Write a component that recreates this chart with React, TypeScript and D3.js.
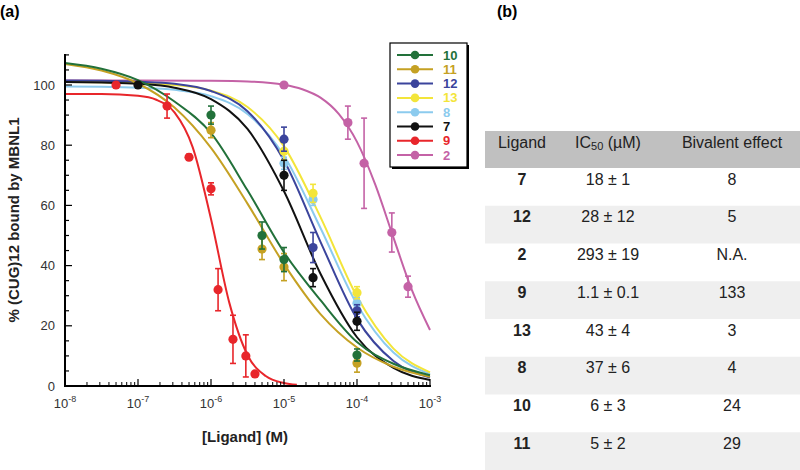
import React from "react";
import * as d3 from "d3";

// ---------- data ----------
const seriesNames = ["10", "11", "12", "13", "8", "7", "9", "2"];
const seriesColors = ["#22713a", "#c5a123", "#3b449c", "#f3e53a", "#8ccbee", "#111111", "#e8262b", "#c462a6"];

// fitted curves
const curveConc = [1e-8, 3.16e-8, 1e-7, 3.16e-7, 1e-6, 3.16e-6, 1e-5, 3.16e-5, 1e-4, 3.16e-4, 1e-3];
const curve10 = [107.3, 105.4, 101.6, 94.5, 84, 65, 44.4, 28.5, 14.6, 7.4, 3.6];
const curve11 = [107, 104.8, 100.5, 92.5, 79.1, 60.6, 40.5, 23.9, 12.8, 6.4, 3.1];
const curve12 = [101.5, 101.4, 101.1, 100.4, 98.0, 91.3, 74.9, 47.9, 22.3, 8.3, 2.8];
const curve13 = [101, 100.9, 100.7, 100, 98.1, 92.7, 79.6, 56.1, 29.7, 12.4, 4.5];
const curve8 = [99.5, 99.4, 99.1, 98.4, 96.3, 90.4, 76.5, 52.5, 27.1, 11.1, 4.0];
const curve7 = [101, 100.8, 100.4, 99.1, 95.3, 85.4, 64.7, 37.3, 16.2, 6.0, 2.0];
const curve9Conc = [1e-8, 3.16e-8, 1e-7, 1.78e-7, 3.16e-7, 5.62e-7, 1e-6, 1.78e-6, 3.16e-6, 5.62e-6, 1e-5, 1.5e-5];
const curve9 = [97, 97, 96.4, 95.1, 90.9, 79.3, 55.5, 27.7, 10.3, 3.3, 1.0, 0.4];
const curve2Conc = [1e-8, 1e-7, 1e-6, 3.16e-6, 1e-5, 1.78e-5, 3.16e-5, 5.62e-5, 1e-4, 1.78e-4, 3.16e-4, 5.62e-4, 1e-3];
const curve2 = [101.5, 101.5, 101.4, 101.2, 100.1, 98.6, 95.8, 90.4, 81.1, 66.9, 49.3, 32.0, 18.6];

// measured points
const pts10Conc = [1e-6, 5e-6, 1e-5, 1e-4];
const pts10Val = [90, 50, 42, 10.3];
const pts10Err = [3, 4.5, 4, 2];
const pts11Conc = [1e-6, 5e-6, 1e-5, 1e-4];
const pts11Val = [85, 45.5, 39.5, 7.6];
const pts11Err = [2.5, 3.5, 4.5, 3];
const pts12Conc = [1e-5, 2.5e-5, 1e-4];
const pts12Val = [82, 46, 25];
const pts12Err = [4, 5, 2];
const pts13Conc = [1e-5, 2.5e-5, 1e-4];
const pts13Val = [78, 64, 31];
const pts13Err = [3, 3, 2];
const pts8Conc = [1e-5, 2.5e-5, 1e-4];
const pts8Val = [74, 62, 27.5];
const pts8Err = [2, 2, 2];
const pts7Conc = [1e-7, 1e-5, 2.5e-5, 1e-4];
const pts7Val = [100, 70, 36, 21.5];
const pts7Err = [0, 5, 3, 3];
const pts9Conc = [5e-8, 2.5e-7, 5e-7, 1e-6, 1.25e-6, 2e-6, 3e-6, 4e-6];
const pts9Val = [100, 93, 76, 65.5, 32, 15.5, 10, 4];
const pts9Err = [0, 4, 1, 2, 7, 8, 7, 0.5];
const pts2Conc = [1e-5, 7.5e-5, 1.25e-4, 3e-4, 5e-4];
const pts2Val = [100, 87.5, 74, 51, 33];
const pts2Err = [0, 5.5, 15, 6.5, 3.5];

const xTickExps = [-8, -7, -6, -5, -4, -3];
const yTicks = [0, 20, 40, 60, 80, 100];

// table
const tableHeader = ["Ligand", "IC", "Bivalent effect"];
const tableLigand = ["7", "12", "2", "9", "13", "8", "10", "11"];
const tableIC50 = ["18 ± 1", "28 ± 12", "293 ± 19", "1.1 ± 0.1", "43 ± 4", "37 ± 6", "6 ± 3", "5 ± 2"];
const tableBivalent = ["8", "5", "N.A.", "133", "3", "4", "24", "29"];

const curves = [
  { c: curveConc, v: curve10 },
  { c: curveConc, v: curve11 },
  { c: curveConc, v: curve12 },
  { c: curveConc, v: curve13 },
  { c: curveConc, v: curve8 },
  { c: curveConc, v: curve7 },
  { c: curve9Conc, v: curve9 },
  { c: curve2Conc, v: curve2 },
];
const points = [
  { c: pts10Conc, v: pts10Val, e: pts10Err },
  { c: pts11Conc, v: pts11Val, e: pts11Err },
  { c: pts12Conc, v: pts12Val, e: pts12Err },
  { c: pts13Conc, v: pts13Val, e: pts13Err },
  { c: pts8Conc, v: pts8Val, e: pts8Err },
  { c: pts7Conc, v: pts7Val, e: pts7Err },
  { c: pts9Conc, v: pts9Val, e: pts9Err },
  { c: pts2Conc, v: pts2Val, e: pts2Err },
];

const FONT = "'Liberation Sans', Arial, sans-serif";

export default function App() {
  const x = d3.scaleLog().domain([1e-8, 1e-3]).range([65, 430]);
  const y = d3.scaleLinear().domain([0, 110]).range([386, 54.9]);
  const line = d3
    .line<[number, number]>()
    .x((d) => x(d[0]))
    .y((d) => y(d[1]))
    .curve(d3.curveMonotoneX);

  const minorX: number[] = [];
  for (let e = -8; e < -3; e++) for (let m = 2; m <= 9; m++) minorX.push(m * Math.pow(10, e));
  const minorY = d3.range(0, 111, 5);

  // draw order: lower layers first
  const drawOrder = [7, 6, 4, 3, 2, 5, 1, 0];

  const rowH = 37.75;
  const tableTop = 131;
  const headerH = 37;
  const colX = [522, 608, 732];

  return (
    <svg width={800} height={470} style={{ position: "absolute", left: 0, top: 0, background: "#fff" }} fontFamily={FONT}>
      <rect x={0} y={0} width={800} height={470} fill="#fff" />
      {/* panel labels */}
      <text x={0} y={17} fontSize={16} fontWeight="bold">(a)</text>
      <text x={497} y={17} fontSize={16} fontWeight="bold">(b)</text>

      {/* curves */}
      {drawOrder.map((i) => (
        <path
          key={"c" + i}
          d={line(curves[i].c.map((c, k) => [c, curves[i].v[k]] as [number, number])) || ""}
          fill="none"
          stroke={seriesColors[i]}
          strokeWidth={2}
        />
      ))}
      {/* points */}
      {drawOrder.map((i) => (
        <g key={"p" + i} stroke={seriesColors[i]} fill={seriesColors[i]}>
          {points[i].c.map((c, k) => {
            const cx = x(c);
            const v = points[i].v[k];
            const e = points[i].e[k];
            return (
              <g key={k}>
                {e > 0 && (
                  <g strokeWidth={1.6}>
                    <line x1={cx} x2={cx} y1={y(v - e)} y2={y(v + e)} />
                    <line x1={cx - 3} x2={cx + 3} y1={y(v - e)} y2={y(v - e)} />
                    <line x1={cx - 3} x2={cx + 3} y1={y(v + e)} y2={y(v + e)} />
                  </g>
                )}
                <circle cx={cx} cy={y(v)} r={4.6} stroke="none" />
              </g>
            );
          })}
        </g>
      ))}

      {/* axes */}
      <g stroke="#000">
        <line x1={65} x2={65} y1={54} y2={387} strokeWidth={2} />
        <line x1={64} x2={431} y1={386} y2={386} strokeWidth={2} />
        {minorY.map((t) => (
          <line key={"my" + t} x1={65} x2={t % 20 === 0 ? 72 : 69} y1={y(t)} y2={y(t)} strokeWidth={1.2} />
        ))}
        {xTickExps.map((e) => (
          <line key={"mx" + e} x1={x(Math.pow(10, e))} x2={x(Math.pow(10, e))} y1={386} y2={379} strokeWidth={1.2} />
        ))}
        {minorX.map((t, k) => (
          <line key={"nx" + k} x1={x(t)} x2={x(t)} y1={386} y2={382} strokeWidth={1} />
        ))}
      </g>
      {yTicks.map((t) => (
        <text key={"yt" + t} x={55} y={y(t) + 4.5} fontSize={13} textAnchor="end" fill="#333">
          {t}
        </text>
      ))}
      {xTickExps.map((e) => (
        <text key={"xt" + e} x={x(Math.pow(10, e))} y={408} fontSize={13} textAnchor="middle" fill="#333">
          10<tspan fontSize={9} dy={-6}>{e}</tspan>
        </text>
      ))}
      <text x={245} y={442} fontSize={15} fontWeight="bold" textAnchor="middle" fill="#222">
        [Ligand] (M)
      </text>
      <text
        transform="translate(19,220) rotate(-90)"
        fontSize={15}
        fontWeight="bold"
        textAnchor="middle"
        fill="#222"
      >
        % (CUG)12 bound by MBNL1
      </text>

      {/* legend */}
      <rect x={392} y={45} width={77} height={124} fill="#000" />
      <rect x={390} y={43} width={77} height={124} fill="#fff" stroke="#000" strokeWidth={1.2} />
      {seriesNames.map((n, i) => {
        const ly = 55 + i * 14.3;
        return (
          <g key={"lg" + n}>
            <line x1={397} x2={433} y1={ly} y2={ly} stroke={seriesColors[i]} strokeWidth={2} />
            <circle cx={415} cy={ly} r={4.3} fill={seriesColors[i]} />
            <text x={443} y={ly + 4.5} fontSize={13} fontWeight="bold" fill={seriesColors[i]}>
              {n}
            </text>
          </g>
        );
      })}

      {/* table */}
      <rect x={485} y={tableTop} width={315} height={headerH} fill="#c0c0c0" />
      {tableLigand.map((_, k) =>
        k % 2 === 1 ? (
          <rect key={"band" + k} x={485} y={tableTop + headerH + k * rowH} width={315} height={rowH} fill="#efefef" />
        ) : null
      )}
      <text x={colX[0]} y={tableTop + 17} fontSize={16} textAnchor="middle" fill="#222">{tableHeader[0]}</text>
      <text x={colX[1]} y={tableTop + 17} fontSize={16} textAnchor="middle" fill="#222">
        {tableHeader[1]}
        <tspan fontSize={11} dy={2}>50</tspan>
        <tspan dy={-2}> (µM)</tspan>
      </text>
      <text x={colX[2]} y={tableTop + 17} fontSize={16} textAnchor="middle" fill="#222">{tableHeader[2]}</text>
      {tableLigand.map((lig, k) => {
        const ty = tableTop + headerH + k * rowH + 16.5;
        return (
          <g key={"row" + k} fontSize={16} fill="#222" textAnchor="middle">
            <text x={colX[0]} y={ty} fontWeight="bold">{lig}</text>
            <text x={colX[1]} y={ty}>{tableIC50[k]}</text>
            <text x={colX[2]} y={ty}>{tableBivalent[k]}</text>
          </g>
        );
      })}
    </svg>
  );
}
